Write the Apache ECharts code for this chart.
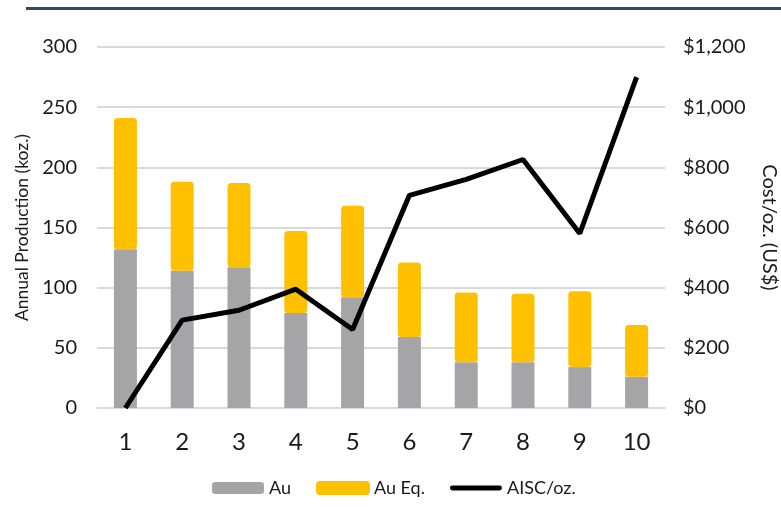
<!DOCTYPE html>
<html>
<head>
<meta charset="utf-8">
<script src="https://cdn.jsdelivr.net/npm/echarts@6/dist/echarts.min.js"></script>
<style>
  html, body { margin: 0; padding: 0; background: #fff; }
  #chart { width: 781px; height: 508px; }
</style>
</head>
<body>
<div id="chart"></div>
<script>
// data
var years = ['1', '2', '3', '4', '5', '6', '7', '8', '9', '10'];
var au = [132, 114, 117, 79, 92, 59, 38, 38, 34, 26];
var auEq = [109, 74, 70, 68, 76, 62, 58, 57, 63, 43];
var aisc = [0, 292, 325, 395, 261, 707, 760, 826, 580, 1100];

var font = 'Lato, "Open Sans", sans-serif';
var txt = '#1a1a1a';
var chart = echarts.init(document.getElementById('chart'));

chart.setOption({
  animation: false,
  textStyle: { fontFamily: font },
  graphic: [{
    type: 'rect',
    shape: { x: 26, y: 7, width: 755, height: 3 },
    style: { fill: '#2f4a6d' }
  }],
  grid: { left: 97, right: 116, top: 47, bottom: 100, outerBoundsMode: 'none' },
  legend: {
    bottom: 6,
    left: 207,
    itemWidth: 52,
    itemHeight: 12,
    itemGap: 25,
    textStyle: { fontSize: 18, color: txt, fontFamily: font },
    data: [
      { name: 'Au' },
      { name: 'Au Eq.' },
      { name: 'AISC/oz.', icon: 'path://M2,0 H50 A2,2 0 0 1 50,5 H2 A2,2 0 0 1 2,0 Z' }
    ]
  },
  xAxis: {
    type: 'category',
    data: years,
    axisTick: { show: false },
    axisLine: { lineStyle: { color: '#d9d9d9', width: 2 } },
    axisLabel: { fontSize: 24, color: txt, margin: 22, fontFamily: font }
  },
  yAxis: [
    {
      type: 'value',
      min: 0, max: 300, interval: 50,
      name: 'Annual Production (koz.)',
      nameLocation: 'middle',
      nameGap: 65,
      nameTextStyle: { fontSize: 17.5, color: txt, fontFamily: font },
      axisLabel: { fontSize: 20, color: txt, margin: 20, fontFamily: font },
      splitLine: { lineStyle: { color: '#d9d9d9', width: 2 } }
    },
    {
      type: 'value',
      min: 0, max: 1200, interval: 200,
      name: 'Cost/oz. (US$)',
      nameLocation: 'middle',
      nameRotate: -90,
      nameGap: 94,
      nameTextStyle: { fontSize: 20, color: txt, fontFamily: font },
      axisLabel: {
        fontSize: 20, color: txt, margin: 18, fontFamily: font,
        formatter: function (v) { return '$' + v.toLocaleString('en-US'); }
      },
      splitLine: { show: false }
    }
  ],
  series: [
    {
      name: 'Au',
      type: 'bar',
      stack: 'prod',
      barWidth: 23,
      data: au,
      itemStyle: { color: '#a5a5a8' }
    },
    {
      name: 'Au Eq.',
      type: 'bar',
      stack: 'prod',
      barWidth: 23,
      data: auEq,
      itemStyle: { color: '#ffc000', borderColor: '#ffc000', borderWidth: 3, borderRadius: 2 }
    },
    {
      name: 'AISC/oz.',
      type: 'line',
      yAxisIndex: 1,
      data: aisc,
      symbol: 'none',
      lineStyle: { color: '#000', width: 5 },
      itemStyle: { color: '#000' },
      z: 5
    }
  ]
});
</script>
</body>
</html>
